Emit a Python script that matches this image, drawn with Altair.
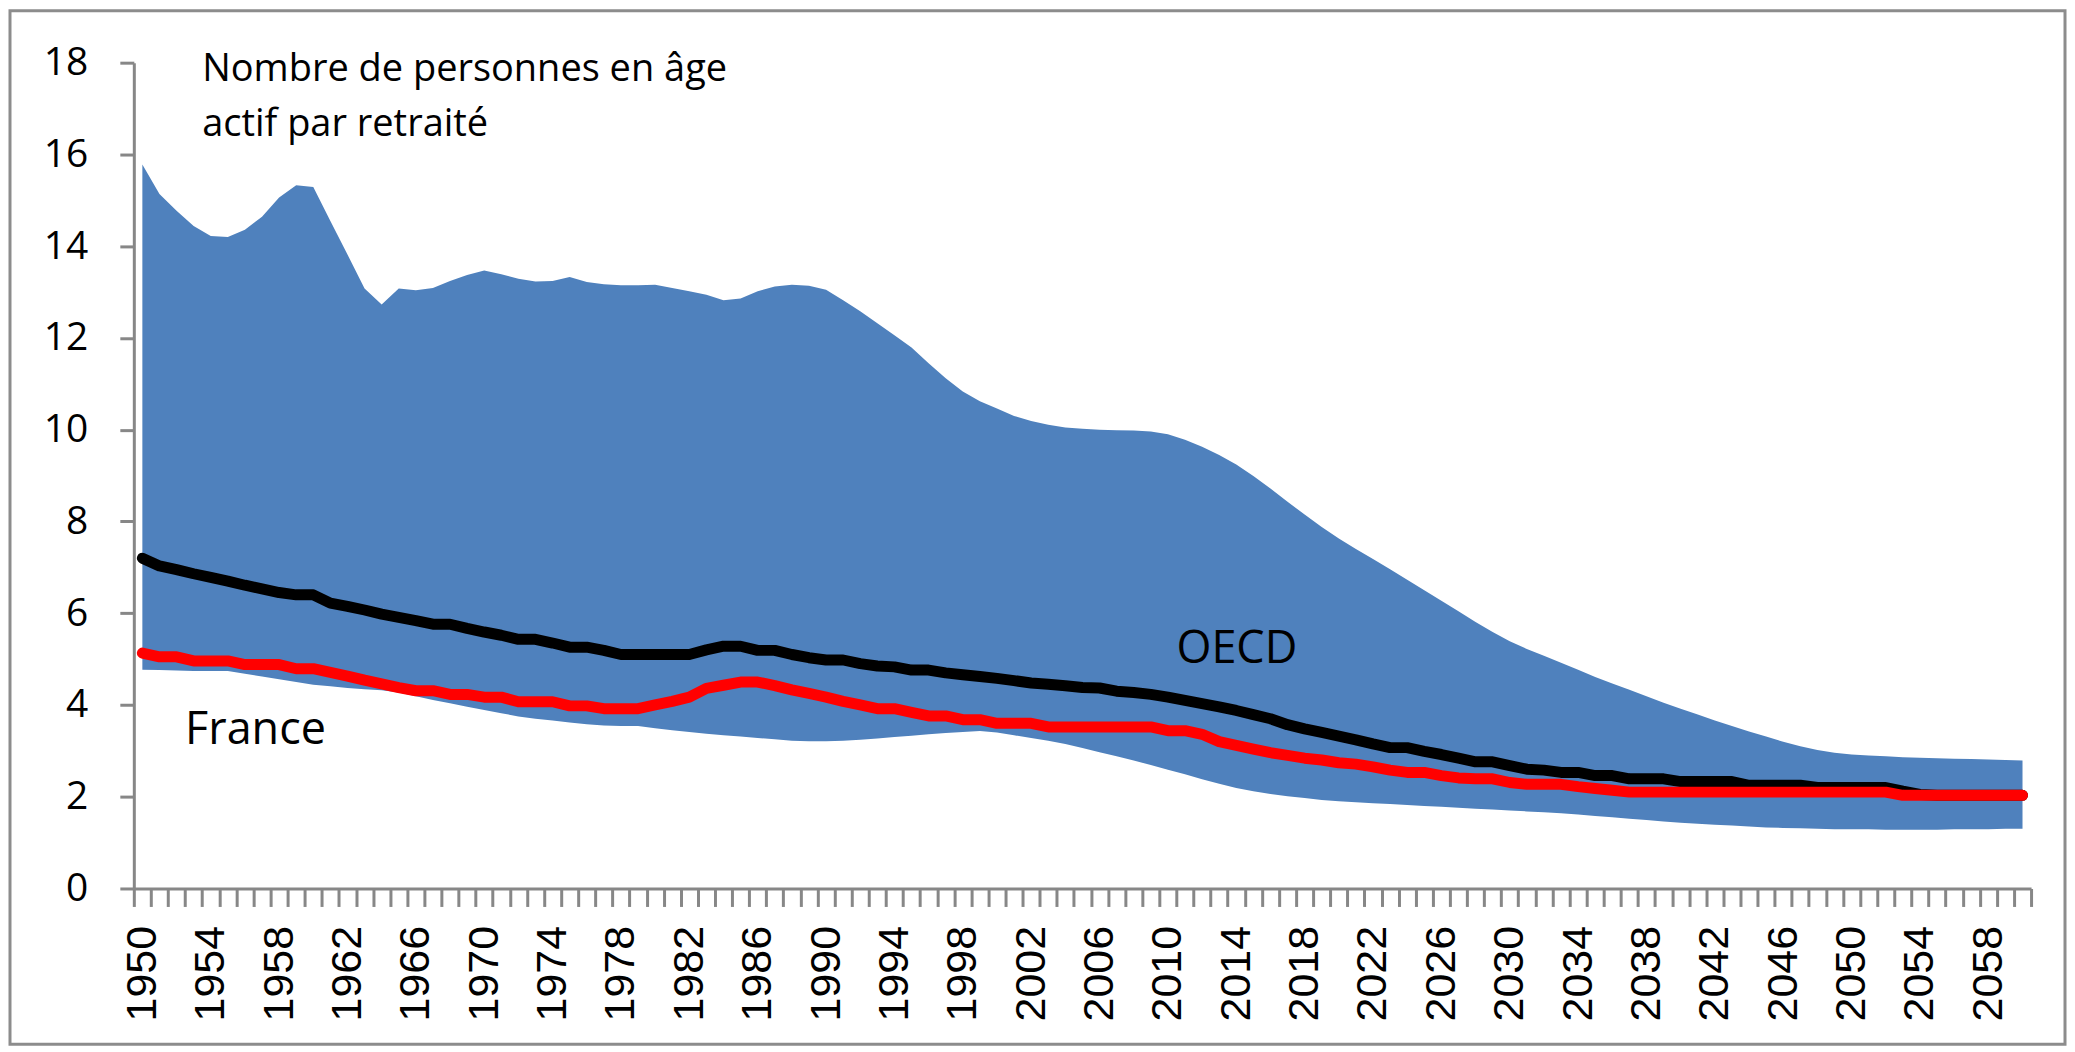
import altair as alt
import pandas as pd

years = list(range(1950, 2061))

oecd_max = [
    15.78, 15.14, 14.77, 14.44, 14.22, 14.20, 14.36, 14.64, 15.06, 15.33,
    15.29, 14.55, 13.82, 13.08, 12.73, 13.08, 13.04, 13.09, 13.24, 13.37,
    13.47, 13.39, 13.29, 13.23, 13.24, 13.33, 13.22, 13.17, 13.15, 13.15,
    13.16, 13.09, 13.02, 12.94, 12.82, 12.86, 13.02, 13.12, 13.16, 13.14,
    13.05, 12.82, 12.58, 12.32, 12.06, 11.79, 11.45, 11.12, 10.83, 10.62,
    10.46, 10.30, 10.19, 10.11, 10.05, 10.02, 10.00, 9.99, 9.98, 9.96,
    9.90, 9.78, 9.63, 9.45, 9.24, 8.99, 8.72, 8.43, 8.15, 7.88,
    7.63, 7.40, 7.18, 6.96, 6.73, 6.50, 6.27, 6.04, 5.81, 5.59,
    5.39, 5.22, 5.07, 4.92, 4.77, 4.61, 4.47, 4.33, 4.19, 4.05,
    3.92, 3.79, 3.66, 3.54, 3.42, 3.31, 3.20, 3.10, 3.02, 2.96,
    2.92, 2.90, 2.88, 2.86, 2.85, 2.84, 2.83, 2.82, 2.81, 2.80,
    2.79,
]

oecd_min = [
    4.77, 4.76, 4.75, 4.74, 4.74, 4.74, 4.68, 4.62, 4.56, 4.50,
    4.44, 4.41, 4.37, 4.34, 4.32, 4.27, 4.19, 4.11, 4.04, 3.96,
    3.89, 3.82, 3.75, 3.70, 3.66, 3.62, 3.58, 3.55, 3.54, 3.54,
    3.49, 3.45, 3.41, 3.37, 3.34, 3.31, 3.28, 3.25, 3.22, 3.21,
    3.21, 3.22, 3.24, 3.27, 3.30, 3.33, 3.36, 3.39, 3.41, 3.43,
    3.40, 3.34, 3.28, 3.22, 3.15, 3.06, 2.97, 2.88, 2.79, 2.69,
    2.59, 2.49, 2.38, 2.28, 2.19, 2.12, 2.06, 2.01, 1.97, 1.93,
    1.90, 1.88, 1.86, 1.84, 1.82, 1.80, 1.78, 1.76, 1.74, 1.72,
    1.70, 1.68, 1.66, 1.64, 1.61, 1.58, 1.55, 1.52, 1.49, 1.46,
    1.43, 1.41, 1.39, 1.37, 1.35, 1.33, 1.32, 1.31, 1.30, 1.29,
    1.29, 1.29, 1.28, 1.28, 1.28, 1.28, 1.29, 1.29, 1.29, 1.30,
    1.30,
]

oecd_avg = [
    7.20, 7.03, 6.95, 6.86, 6.78, 6.70, 6.61, 6.53, 6.45, 6.40,
    6.40, 6.22, 6.15, 6.07, 5.98, 5.91, 5.84, 5.76, 5.76, 5.67,
    5.59, 5.52, 5.43, 5.43, 5.35, 5.26, 5.26, 5.19, 5.10, 5.10,
    5.10, 5.10, 5.10, 5.20, 5.28, 5.28, 5.19, 5.19, 5.10, 5.03,
    4.98, 4.98, 4.90, 4.85, 4.83, 4.76, 4.76, 4.70, 4.66, 4.62,
    4.58, 4.53, 4.48, 4.45, 4.42, 4.38, 4.37, 4.30, 4.27, 4.23,
    4.17, 4.10, 4.03, 3.96, 3.88, 3.79, 3.70, 3.57, 3.48, 3.40,
    3.32, 3.24, 3.15, 3.07, 3.07, 2.99, 2.92, 2.84, 2.76, 2.76,
    2.68, 2.60, 2.58, 2.53, 2.53, 2.46, 2.46, 2.39, 2.39, 2.39,
    2.33, 2.33, 2.33, 2.33, 2.25, 2.25, 2.25, 2.25, 2.20, 2.20,
    2.20, 2.20, 2.20, 2.12, 2.05, 2.03, 2.03, 2.03, 2.03, 2.03,
    2.03,
]

france = [
    5.13, 5.05, 5.05, 4.96, 4.96, 4.96, 4.88, 4.88, 4.88, 4.79,
    4.79, 4.71, 4.63, 4.54, 4.46, 4.38, 4.31, 4.31, 4.23, 4.23,
    4.17, 4.17, 4.07, 4.07, 4.07, 3.98, 3.98, 3.92, 3.92, 3.92,
    4.00, 4.08, 4.17, 4.36, 4.43, 4.50, 4.50, 4.42, 4.33, 4.25,
    4.17, 4.08, 4.00, 3.92, 3.92, 3.84, 3.76, 3.76, 3.68, 3.68,
    3.60, 3.60, 3.60, 3.52, 3.52, 3.52, 3.52, 3.52, 3.52, 3.52,
    3.44, 3.44, 3.36, 3.20, 3.12, 3.04, 2.96, 2.90, 2.84, 2.80,
    2.74, 2.71, 2.65, 2.58, 2.53, 2.53, 2.46, 2.41, 2.39, 2.39,
    2.31, 2.27, 2.27, 2.27, 2.22, 2.18, 2.14, 2.10, 2.10, 2.10,
    2.10, 2.10, 2.10, 2.10, 2.10, 2.10, 2.10, 2.10, 2.10, 2.10,
    2.10, 2.10, 2.10, 2.03, 2.03, 2.03, 2.03, 2.03, 2.03, 2.03,
    2.03,
]

title_lines = ["Nombre de personnes en âge", "actif par retraité"]
title_years = [1954, 1954]
title_values = [17.61, 16.41]

label_texts = ["OECD", "France"]
label_years = [2011, 1953]
label_values = [4.92, 3.16]

df = pd.DataFrame({
    "year": years,
    "max": oecd_max,
    "min": oecd_min,
    "oecd": oecd_avg,
    "france": france,
})
titles_df = pd.DataFrame({"year": title_years, "value": title_values, "text": title_lines})
labels_df = pd.DataFrame({"year": label_years, "value": label_values, "text": label_texts})

AXIS_GREY = "#878787"
W, H = 1900, 827

xscale = alt.Scale(type="band", domain=years, paddingInner=0, paddingOuter=0)
yscale = alt.Scale(domain=[0, 18], nice=False)

x_axis = alt.Axis(
    title=None,
    tickBand="extent",
    labelExpr="(datum.value - 1950) % 4 == 0 ? datum.value : ''",
    labelAngle=270,
    labelFont="Liberation Sans",
    labelFontSize=43,
    labelColor="#000000",
    labelPadding=19,
    labelOverlap=False,
    labelFlush=False,
    labelBound=False,
    domainColor=AXIS_GREY,
    domainWidth=3,
    tickColor=AXIS_GREY,
    tickWidth=3,
    tickSize=18,
    grid=False,
)
y_axis = alt.Axis(
    title=None,
    values=list(range(0, 19, 2)),
    labelFont="Open Sans",
    labelFontSize=39,
    labelColor="#000000",
    labelPadding=32,
    domainColor=AXIS_GREY,
    domainWidth=3,
    tickColor=AXIS_GREY,
    tickWidth=3,
    tickSize=14,
    grid=False,
)

base = alt.Chart(df)

band = base.mark_area(color="#4F81BD", opacity=1).encode(
    x=alt.X("year:O", scale=xscale, axis=x_axis, bandPosition=0.5),
    y=alt.Y("max:Q", scale=yscale, axis=y_axis),
    y2="min:Q",
)

oecd_line = base.mark_line(color="#000000", strokeWidth=11, strokeCap="round", strokeJoin="round").encode(
    x=alt.X("year:O", scale=xscale, bandPosition=0.5),
    y=alt.Y("oecd:Q", scale=yscale),
)

france_line = base.mark_line(color="#FF0000", strokeWidth=11, strokeCap="round", strokeJoin="round").encode(
    x=alt.X("year:O", scale=xscale, bandPosition=0.5),
    y=alt.Y("france:Q", scale=yscale),
)

title_text = alt.Chart(titles_df).mark_text(
    font="Open Sans", fontSize=38, align="left", baseline="alphabetic", color="#000000"
).encode(
    x=alt.X("year:O", scale=xscale, bandPosition=0),
    y=alt.Y("value:Q", scale=yscale),
    text="text:N",
)

label_text = alt.Chart(labels_df).mark_text(
    font="Open Sans", fontSize=45, align="left", baseline="alphabetic", color="#000000"
).encode(
    x=alt.X("year:O", scale=xscale, bandPosition=0),
    y=alt.Y("value:Q", scale=yscale),
    text="text:N",
)

frame = alt.Chart(pd.DataFrame({"k": [0]})).mark_rect(
    fillOpacity=0, stroke="#8C8C8C", strokeWidth=3
).encode(
    x=alt.value(-124), x2=alt.value(1934), y=alt.value(-52), y2=alt.value(983)
)

chart = alt.layer(band, oecd_line, france_line, title_text, label_text, frame).properties(
    width=W, height=H, padding=0, background="#FFFFFF"
).configure_view(strokeWidth=0)

chart.save("out.html", embed_options={"renderer": "svg", "actions": False})
